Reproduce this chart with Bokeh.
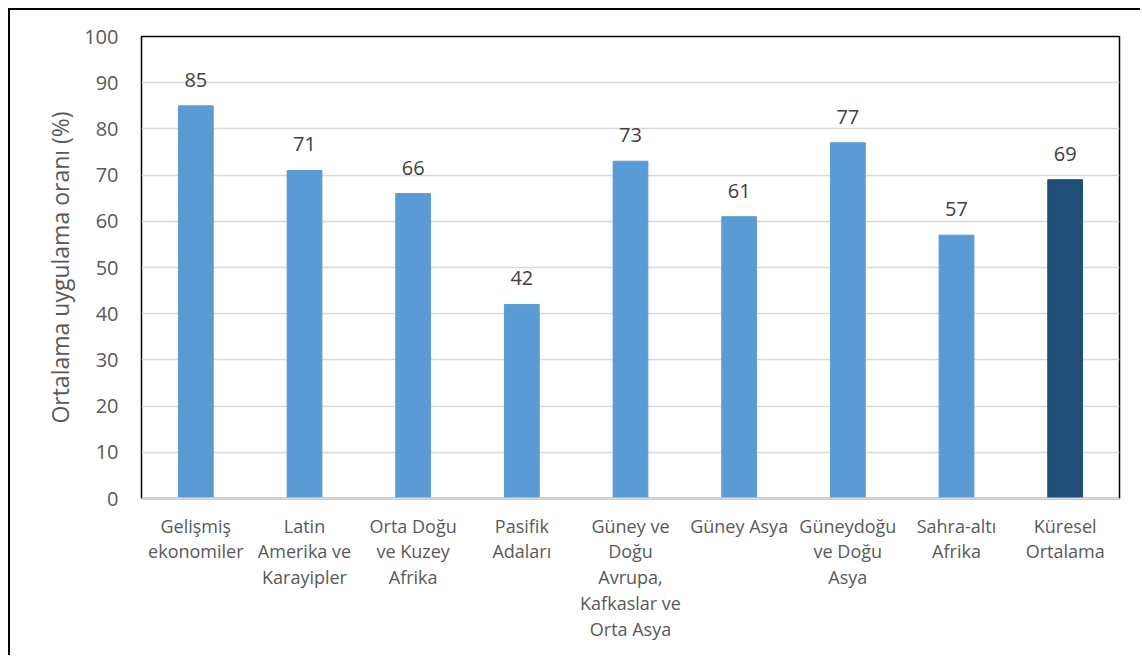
from bokeh.plotting import figure
from bokeh.models import ColumnDataSource, SingleIntervalTicker
from bokeh.core.properties import value
from bokeh.embed import file_html
from bokeh.resources import INLINE

categories = [
    "Gelişmiş\nekonomiler",
    "Latin\nAmerika ve\nKarayipler",
    "Orta Doğu\nve Kuzey\nAfrika",
    "Pasifik\nAdaları",
    "Güney ve\nDoğu\nAvrupa,\nKafkaslar ve\nOrta Asya",
    "Güney Asya",
    "Güneydoğu\nve Doğu\nAsya",
    "Sahra-altı\nAfrika",
    "Küresel\nOrtalama",
]
values = [85, 71, 66, 42, 73, 61, 77, 57, 69]
labels = [str(v) for v in values]
bar_colors = ["#5B9BD5"] * 8 + ["#1F4E79"]

FONT = "Open Sans"

src = ColumnDataSource(dict(cat=categories, val=values, lab=labels, col=bar_colors))

p = figure(
    x_range=categories, y_range=(0, 100),
    width=1132, height=647,
    output_backend="svg", toolbar_location=None,
    min_border_left=131, min_border_top=26, min_border_right=23, min_border_bottom=159,
)
p.styles = {"margin-left": "8px", "margin-top": "8px",
            "border-left": "2px solid black", "border-top": "2px solid black"}

p.vbar(x="cat", top="val", width=0.32, color="col", source=src)
p.text(x="cat", y="val", text="lab", source=src, text_align="center",
       text_baseline="alphabetic", y_offset=-26, text_font=value(FONT),
       text_font_size="20px", text_color="#404040")

p.outline_line_color = "black"
p.outline_line_width = 1.5

p.xgrid.grid_line_color = None
p.ygrid.grid_line_color = "#D9D9D9"
p.ygrid.grid_line_width = 1.5

p.yaxis.ticker = SingleIntervalTicker(interval=10)
p.yaxis.axis_line_color = None
p.yaxis.major_tick_line_color = None
p.yaxis.minor_tick_line_color = None
p.yaxis.major_label_standoff = 17
p.yaxis.major_label_text_font = FONT
p.yaxis.major_label_text_font_size = "20px"
p.yaxis.major_label_text_color = "#595959"
p.yaxis.axis_label = "Ortalama uygulama oranı (%)"
p.yaxis.axis_label_text_font = FONT
p.yaxis.axis_label_text_font_size = "23px"
p.yaxis.axis_label_text_font_style = "normal"
p.yaxis.axis_label_text_color = "#595959"
p.yaxis.axis_label_standoff = 5

p.xaxis.axis_line_color = "#D9D9D9"
p.xaxis.axis_line_width = 2
p.xaxis.major_tick_line_color = None
p.xaxis.minor_tick_line_color = None
p.xaxis.major_label_standoff = 9
p.xaxis.major_label_text_font = FONT
p.xaxis.major_label_text_font_size = "18px"
p.xaxis.major_label_text_color = "#595959"
p.xaxis.major_label_text_line_height = 1.08

open("out.html", "w").write(file_html(p, INLINE))
